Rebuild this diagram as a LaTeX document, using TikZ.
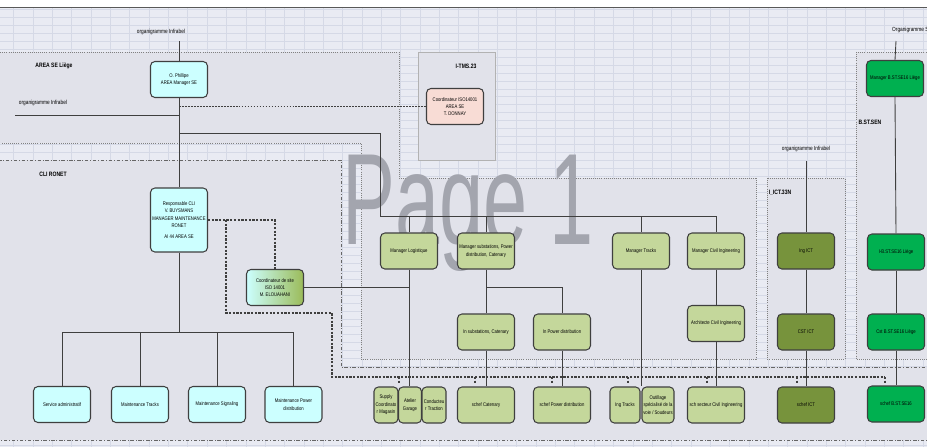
\documentclass[tikz,border=0pt]{standalone}
\usepackage{fontspec}
\usepackage{graphicx}
\setmainfont{Liberation Sans}
\newfontfamily\boxfont{Liberation Sans}[FakeStretch=0.8]
\usetikzlibrary{positioning}

\definecolor{gridbg}{HTML}{E9EBF3}
\definecolor{gridline}{HTML}{D5D9E6}
\definecolor{zonebg}{HTML}{E1E2EA}
\definecolor{cyanbox}{HTML}{CCFFFF}
\definecolor{pinkbox}{HTML}{F8DCD5}
\definecolor{lightolive}{HTML}{C4D79B}
\definecolor{olive}{HTML}{77933C}
\definecolor{sncbgreen}{HTML}{00B050}
\definecolor{sitegreen}{HTML}{9BBB59}
\definecolor{edgegray}{HTML}{3F3F3F}
\definecolor{pagegray}{HTML}{A3A5AE}

\begin{document}
\begin{tikzpicture}
[x=0.02cm, y=-0.02cm,
  orgbox/.style={shape=rectangle,rounded corners=2.5pt,draw=edgegray,line width=0.6pt,
    minimum width=1.14cm,minimum height=0.72cm,inner sep=0.5pt,align=center,
    font=\boxfont\fontsize{3}{4.2}\selectfont},
  boxw/.style={minimum width=#1*0.02cm},
  infraBox/.style={orgbox,fill=cyanbox},
  isoBox/.style={orgbox,fill=pinkbox},
  logBox/.style={orgbox,fill=lightolive},
  ictBox/.style={orgbox,fill=olive},
  sncbBox/.style={orgbox,fill=sncbgreen},
  zoneTitle/.style={font=\boxfont\bfseries\fontsize{3.6}{4}\selectfont},
  orgLabel/.style={font=\boxfont\fontsize{3.4}{4}\selectfont},
  zone/.style={fill=zonebg,draw=gray,line width=0.4pt,dash pattern=on 0.5pt off 0.7pt},
  cliZone/.style={fill=zonebg,draw=gray!80!black,line width=0.4pt,
    dash pattern=on 2pt off 1pt on 0.5pt off 1pt},
  link/.style={draw=edgegray,line width=0.5pt},
  isoLink/.style={draw=edgegray,line width=0.6pt,dash pattern=on 1pt off 0.7pt},
  siteLink/.style={draw=edgegray,line width=0.6pt,dash pattern=on 1.3pt off 0.8pt}]
\useasboundingbox (0,0) rectangle (927,447);

%% background sheet
\fill[gridbg] (0,7) rectangle (927,447);
\foreach \k in {0,...,47}
  \draw[gridline,line width=0.3pt] ({13.6+19.35*\k},7) -- ({13.6+19.35*\k},447);
\foreach \k in {0,...,55}
  \draw[gridline,line width=0.3pt] (0,{9.5+7.93*\k}) -- (927,{9.5+7.93*\k});
\fill[white] (0,0) rectangle (927,7);
\draw[gray!70!black,line width=0.5pt] (0,7) -- (927,7);

%% zones
\draw[zone] (-2,52) -- (399,52) -- (399,178) -- (756,178) -- (756,359)
  -- (361,359) -- (361,143) -- (-2,143) -- cycle;
\draw[zone] (767,178) rectangle (845,359);
\draw[zone] (856,52) rectangle (930,359);
\draw[fill=zonebg,draw=gray!60,line width=0.4pt] (418,52) rectangle (495,160);
\draw[cliZone] (-2,160) -- (341,160) -- (341,367) -- (930,367) -- (930,440)
  -- (-2,440) -- cycle;

%% watermark
\node[anchor=base west,inner sep=0pt,text=pagegray,font=\fontsize{74}{74}\selectfont]
  (pageOne) at (342,244) {\scalebox{0.61}[1]{Page 1}};

%% zone titles and sheet labels
\node[zoneTitle] (lblArea) at (54,66) {AREA SE Liège};
\node[zoneTitle] (lblTms) at (466,66) {I-TMS.23};
\node[zoneTitle] (lblCli) at (53,174) {CLI RONET};
\node[zoneTitle] (lblIct) at (780,193) {I\_ICT.33N};
\node[zoneTitle] (lblSen) at (870,122) {B.ST.SEN};
\node[orgLabel] (orgTop) at (161,32) {organigramme Infrabel};
\node[orgLabel] (orgLeft) at (43,103) {organigramme Infrabel};
\node[orgLabel] (orgIct) at (806,149) {organigramme Infrabel};
\node[orgLabel,anchor=west] (orgSncb) at (886,30) {Organigramme SNCB};

%% nodes
\node[infraBox] (phil) at (179,79.5) {O. Phillipe\\AREA Manager SE};
\node[isoBox] (coordIso) at (455,106.5) {Coordinateur ISO14001\\AREA SE\\T. DONNAY};
\node[infraBox,minimum height=1.28cm] (resp) at (179,220)
  {Responsable CLI\\V. BUYSMANS\\MANAGER MAINTENANCE\\RONET\\[2pt]AI 44 AREA SE};
\node[orgbox,left color=cyanbox,right color=sitegreen] (coordSite) at (275,287.5)
  {Coordinateur de site\\ISO 14001\\M. ELOUAHANI};
\node[infraBox] (servAdmin) at (62,404.5) {Service administratif};
\node[infraBox] (mainTracks) at (140,404.5) {Maintenance Tracks};
\node[infraBox] (mainSignal) at (217,404.5) {Maintenance Signaling};
\node[infraBox] (mainPower) at (293.5,404.5) {Maintenance Power\\distribution};

\node[logBox] (mgrLog) at (409,251) {Manager Logistique};
\node[logBox] (mgrSub) at (486,251) {Manager substations, Power\\distribution, Catenary};
\node[logBox] (mgrTracks) at (641,251) {Manager Tracks};
\node[logBox] (mgrCivil) at (716,251) {Manager Civil Ingineering};
\node[logBox] (inSub) at (486,332) {In substations, Catenary};
\node[logBox] (inPower) at (562,332) {In Power distribution};
\node[logBox] (archi) at (716,323.5) {Architecte Civil Ingineering};
\node[logBox,boxw=24] (supply) at (386,405) {Supply\\Coordinato\\r Magasin};
\node[logBox,boxw=23] (atelier) at (410,405) {Atelier\\Garage};
\node[logBox,boxw=24] (conduct) at (434,405) {Conducteu\\r Traction};
\node[logBox] (schCat) at (486,405) {schef Catenary};
\node[logBox] (schPower) at (562,405) {schef Power distribution};
\node[logBox,boxw=30] (ingTracks) at (625,405) {Ing Tracks};
\node[logBox,boxw=32] (outillage) at (658,405) {Outillage\\spécialisé de la\\voie / Soudeurs};
\node[logBox] (schCivil) at (716,405) {sch secteur Civil Ingineering};

\node[ictBox] (ingIct) at (806,251) {Ing ICT};
\node[ictBox] (cstIct) at (806,332) {CST ICT};
\node[ictBox] (schIct) at (806,405) {schef ICT};

\node[sncbBox] (mgrBst) at (895,78.5) {Manager B.ST.SE16 Liège};
\node[sncbBox] (ibBst) at (896,252) {I-B.ST.SE16 Liège};
\node[sncbBox] (cstBst) at (896,332) {Cst B.ST.SE16 Liège};
\node[sncbBox] (schBst) at (896,404) {schef B.ST.SE16};

%% connectors
\coordinate (infraTop) at (179,41);
\coordinate (infraLeft) at (15,115);
\coordinate (mgrTurn) at (380,133);
\coordinate (mgrBus) at (380,216);
\coordinate (cliBus) at (179,332);
\coordinate (ictTop) at (806,161);
\coordinate (sncbTop) at (896,41);
\coordinate (siteBend) at (226,313);
\coordinate (schRail) at (332,377);
\coordinate (schRailEnd) at (885,377);

\draw[link] (infraTop) -- (phil.north);
\draw[link] (phil.south) -- (resp.north);
\draw[link] (infraLeft) -- (infraLeft -| phil.south);
\draw[isoLink] (coordIso.west -| phil.south) -- (coordIso.west);
\draw[link] (mgrTurn -| phil.south) -- (mgrTurn) -- (mgrBus) -- (mgrBus -| mgrCivil.north);
\foreach \mgr in {mgrLog,mgrSub,mgrTracks,mgrCivil}
  \draw[link] (mgrBus -| \mgr.north) -- (\mgr.north);
\draw[link] (mgrSub.south) -- (inSub.north);
\draw[link] (mgrSub.south) ++(0,18) -| (inPower.north);
\draw[link] (inSub.south) -- (schCat.north);
\draw[link] (inPower.south) -- (schPower.north);
\draw[link] (mgrLog.south) -- (mgrLog.south |- atelier.north);
\draw[link] (coordSite.east) -- (coordSite.east -| mgrLog.south);
\draw[link] (mgrTracks.south) -- (mgrTracks.south |- ingTracks.north);
\draw[link] (mgrCivil.south) -- (archi.north);
\draw[link] (archi.south) -- (schCivil.north);
\draw[link] (ictTop) -- (ingIct.north);
\draw[link] (ingIct.south) -- (cstIct.north);
\draw[link] (cstIct.south) -- (schIct.north);
\draw[link] (sncbTop) -- (mgrBst.north);
\draw[link] (mgrBst.south) -- (ibBst.north);
\draw[link] (ibBst.south) -- (cstBst.north);
\draw[link] (cstBst.south) -- (schBst.north);
\draw[link] (resp.south) -- (cliBus);
\draw[link] (cliBus -| servAdmin.north) -- (cliBus -| mainPower.north);
\foreach \svc in {servAdmin,mainTracks,mainSignal,mainPower}
  \draw[link] (cliBus -| \svc.north) -- (\svc.north);

%% site coordinator dashed links
\draw[siteLink] (resp.east) -| (coordSite.north);
\draw[siteLink] (resp.east -| siteBend) -- (siteBend) -| (schRail) -- (schRailEnd);
\foreach \tx in {399,475,552,628,707,797,885}
  \draw[siteLink] (\tx,377) -- (\tx,384);
\end{tikzpicture}
\end{document}
